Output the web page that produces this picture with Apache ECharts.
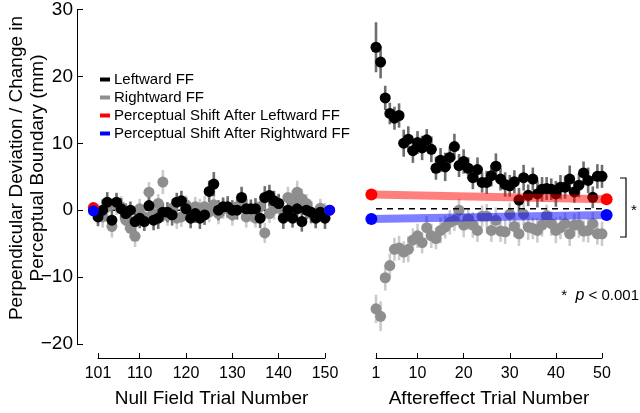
<!DOCTYPE html>
<html><head><meta charset="utf-8">
<script src="https://cdn.jsdelivr.net/npm/echarts@6/dist/echarts.min.js"></script>
<style>html,body{margin:0;padding:0;background:#fff}#c{width:640px;height:413px}</style>
</head><body><div id="c"></div>
<script>
// ---- data ----
const nullTrials = [101,102,103,104,105,106,107,108,109,110,111,112,113,114,115,116,117,118,119,120,121,122,123,124,125,126,127,128,129,130,131,132,133,134,135,136,137,138,139,140,141,142,143,144,145,146,147,148,149,150];
const afterTrials = [1,2,3,4,5,6,7,8,9,10,11,12,13,14,15,16,17,18,19,20,21,22,23,24,25,26,27,28,29,30,31,32,33,34,35,36,37,38,39,40,41,42,43,44,45,46,47,48,49,50];

const nullLeftward = [-1.0,0.0,1.2,-1.5,1.2,0.2,-0.5,0.0,-1.7,-1.2,-1.7,0.7,-1.5,-1.2,-0.3,-0.3,-0.7,1.2,1.4,0.2,-1.2,-0.5,-1.2,-0.7,2.8,3.9,0.0,0.5,0.5,0.0,0.0,1.9,0.2,0.2,0.2,-1.2,1.9,2.2,1.4,1.0,-1.2,0.0,-1.2,0.2,-1.7,0.0,-0.3,-1.2,-0.3,-1.2];
const nullLeftwardErr = [1.4,1.6,1.5,1.7,1.4,1.6,1.5,1.3,1.6,1.5,1.4,1.7,1.5,1.6,1.4,1.5,1.6,1.4,1.5,1.7,1.5,1.4,1.6,1.5,1.6,1.8,1.5,1.4,1.6,1.5,1.4,1.6,1.5,1.4,1.6,1.5,1.7,1.6,1.5,1.4,1.6,1.5,1.4,1.6,1.5,1.4,1.6,1.5,1.4,1.6];
const nullRightward = [-0.5,-1.0,0.5,-2.4,0.8,0.5,-1.5,-2.7,-3.9,0.2,-1.0,2.7,-0.5,1.0,4.2,-0.8,0.3,-1.2,-1.0,0.8,-0.5,0.5,0.3,0.5,-0.3,0.8,-0.5,0.2,0.3,-0.7,0.5,1.4,-1.0,-0.3,-1.2,0.5,-3.4,-0.5,0.2,1.0,-0.2,1.9,1.4,2.7,1.7,1.0,-0.5,-1.0,0.3,-0.5];
const nullRightwardErr = [1.5,1.6,1.4,1.7,1.5,1.6,1.4,1.5,1.6,1.5,1.4,1.5,1.6,1.4,1.8,1.5,1.4,1.6,1.5,1.4,1.6,1.5,1.4,1.6,1.5,1.4,1.6,1.5,1.4,1.6,1.5,1.4,1.6,1.5,1.4,1.6,1.5,1.4,1.6,1.5,1.4,1.6,1.5,1.7,1.5,1.4,1.6,1.5,1.4,1.6];

const afterLeftward = [23.9,21.7,16.4,14.1,13.4,13.8,9.7,10.3,8.6,9.8,9.0,10.2,8.8,6.0,7.2,6.2,7.6,9.2,6.4,7.0,6.0,4.6,5.8,3.9,3.9,4.9,6.3,4.4,3.6,3.4,4.0,1.3,4.6,2.0,4.4,2.2,2.9,3.0,2.9,2.2,3.2,3.2,4.4,2.5,3.5,5.3,4.2,1.7,4.8,4.8];
const afterLeftwardErr = [3.7,2.4,1.8,1.6,1.7,1.8,2.0,1.9,1.8,1.7,1.8,1.6,1.9,1.7,1.8,2.1,1.6,1.9,1.7,1.8,1.6,1.7,1.8,1.5,1.7,1.6,1.9,1.7,1.8,1.6,1.7,1.8,1.9,1.6,1.7,2.0,1.8,1.7,1.6,1.9,1.8,1.7,2.0,1.6,1.8,1.7,1.9,1.6,1.8,1.7];
const afterRightward = [-14.8,-15.9,-10.2,-8.4,-6.0,-5.8,-6.4,-6.0,-4.6,-4.0,-5.0,-2.8,-4.0,-4.4,-3.2,-2.7,-2.0,-1.7,-0.2,-2.4,-1.5,-2.4,-3.2,-1.1,-1.1,-3.2,-1.7,-3.3,-3.4,-0.8,-2.6,-3.7,-0.8,-2.7,-2.9,-3.2,-2.4,-1.0,-2.2,-3.2,-2.8,-2.2,-3.7,-2.4,-2.4,-3.3,-3.2,-2.2,-3.7,-3.7];
const afterRightwardErr = [2.1,2.2,1.9,1.8,1.7,1.8,1.6,1.9,1.7,1.8,1.6,1.7,1.8,1.6,1.9,1.7,1.8,1.6,1.7,1.8,1.6,1.9,1.7,1.6,1.8,1.7,1.9,1.6,1.8,1.7,1.6,1.8,1.7,1.9,1.6,1.8,1.7,1.6,1.8,1.9,1.7,1.6,1.8,1.7,1.9,1.6,1.8,1.7,1.6,1.8];

// perceptual shift end points [trial, value]
const shiftLeftwardNull = [[100,0.4],[151,0.0]];
const shiftRightwardNull = [[100,-0.1],[151,0.0]];
const shiftLeftwardAfter = [[0,2.1],[51,1.4]];
const shiftRightwardAfter = [[0,-1.5],[51,-0.9]];
const zeroNull = [[101,0],[150,0]];
const zeroAfter = [[1,0],[50,0]];

const yTicks = [30,20,10,0,-10,-20];
const nullTicks = [101,110,120,130,140,150];
const afterTicks = [1,10,20,30,40,50];

// ---- build ----
const FONT = '"Liberation Sans", Arial, sans-serif';
const pts = (xs, ys) => xs.map((x,i)=>[x, ys[i]]);
const errs = (xs, ys, es) => xs.map((x,i)=>[x, ys[i]-es[i], ys[i]+es[i]]);
function errSeries(name, gi, data, color){
  return {name, type:'custom', xAxisIndex:gi, yAxisIndex:gi, clip:false, silent:true,
    encode:{x:0, y:[1,2]}, data,
    renderItem:(params, api)=>{
      const p1 = api.coord([api.value(0), api.value(1)]);
      const p2 = api.coord([api.value(0), api.value(2)]);
      return {type:'line', shape:{x1:p1[0],y1:p1[1],x2:p2[0],y2:p2[1]}, style:{stroke:color, lineWidth:2.6}};
    }};
}
function dotSeries(name, gi, data, color){
  return {name, type:'scatter', xAxisIndex:gi, yAxisIndex:gi, clip:false, symbol:'circle', symbolSize:11,
    itemStyle:{color, opacity:1}, data, silent:true};
}
const GRAY = '#8e8e8e', GRAYERR = '#cbcbcb', BLKERR = '#6e6e6e';

function xAxisDef(gi, min, max, ticks, name){
  return {type:'value', gridIndex:gi, min, max, name, offset:14, position:'bottom',
    axisLine:{show:true, onZero:false, lineStyle:{color:'#000', width:1}},
    axisTick:{show:true, inside:true, length:5, customValues:ticks, lineStyle:{color:'#000'}},
    axisLabel:{customValues:ticks, fontSize:16, color:'#000', margin:8, fontFamily:FONT},
    splitLine:{show:false},
    nameLocation:'middle', nameGap:31, nameTextStyle:{fontSize:19, color:'#000', fontFamily:FONT}};
}

const option = {
  animation:false,
  backgroundColor:'#fff',
  textStyle:{fontFamily:FONT},
  grid:[
    {left:98, right:315, top:6, bottom:64},
    {left:376, right:38, top:6, bottom:64}
  ],
  xAxis:[
    xAxisDef(0, 101, 150, nullTicks, 'Null Field Trial Number'),
    xAxisDef(1, 1, 50, afterTicks, 'Aftereffect Trial Number')
  ],
  yAxis:[
    {type:'value', gridIndex:0, min:-20, max:30, interval:10, offset:21,
     axisLine:{show:true, onZero:false, lineStyle:{color:'#000', width:1}},
     axisTick:{show:true, inside:true, length:6, lineStyle:{color:'#000'}},
     splitLine:{show:false},
     axisLabel:{fontSize:19, color:'#000', margin:4, fontFamily:FONT,
       customValues:yTicks, formatter:v=>String(v).replace('-', '\u2212')}},
    {type:'value', gridIndex:1, min:-20, max:30, show:false, splitLine:{show:false}}
  ],
  legend:{
    left:95, top:67, orient:'vertical', itemGap:3, itemWidth:10, itemHeight:4,
    textStyle:{fontSize:15, color:'#000', fontFamily:FONT, lineHeight:15, padding:[0,0,0,-1]},
    selectedMode:false,
    data:[
      {name:'Leftward FF', icon:'rect', itemStyle:{color:'#000'}},
      {name:'Rightward FF', icon:'rect', itemStyle:{color:GRAY}},
      {name:'Perceptual Shift After Leftward FF', icon:'rect', itemStyle:{color:'#ff0000'}},
      {name:'Perceptual Shift After Rightward FF', icon:'rect', itemStyle:{color:'#0000ff'}}
    ]
  },
  series:[
    {name:'zero0', type:'line', xAxisIndex:0, yAxisIndex:0, data:zeroNull, symbol:'none', silent:true,
      lineStyle:{color:'#000', width:1.5, type:[6,5]}, z:1},
    errSeries('errR0', 0, errs(nullTrials, nullRightward, nullRightwardErr), GRAYERR),
    dotSeries('Rightward FF', 0, pts(nullTrials, nullRightward), GRAY),
    errSeries('errL0', 0, errs(nullTrials, nullLeftward, nullLeftwardErr), BLKERR),
    dotSeries('Leftward FF', 0, pts(nullTrials, nullLeftward), '#000'),
    dotSeries('Perceptual Shift After Leftward FF', 0, shiftLeftwardNull, '#ff0000'),
    dotSeries('Perceptual Shift After Rightward FF', 0, shiftRightwardNull, '#0000ff'),
    errSeries('errR1', 1, errs(afterTrials, afterRightward, afterRightwardErr), GRAYERR),
    dotSeries('Rightward FF', 1, pts(afterTrials, afterRightward), GRAY),
    errSeries('errL1', 1, errs(afterTrials, afterLeftward, afterLeftwardErr), BLKERR),
    dotSeries('Leftward FF', 1, pts(afterTrials, afterLeftward), '#000'),
    {name:'zero1', type:'line', xAxisIndex:1, yAxisIndex:1, data:zeroAfter, symbol:'none', silent:true,
      lineStyle:{color:'#000', width:1.5, type:[6,5]}, z:3},
    {name:'Perceptual Shift After Leftward FF', type:'line', xAxisIndex:1, yAxisIndex:1, data:shiftLeftwardAfter,
      clip:false, symbol:'circle', symbolSize:12, showSymbol:true, silent:true, z:4,
      itemStyle:{color:'#ff0000'}, lineStyle:{color:'rgba(255,0,0,0.5)', width:8}},
    {name:'Perceptual Shift After Rightward FF', type:'line', xAxisIndex:1, yAxisIndex:1, data:shiftRightwardAfter,
      clip:false, symbol:'circle', symbolSize:12, showSymbol:true, silent:true, z:4,
      itemStyle:{color:'#0000ff'}, lineStyle:{color:'rgba(0,0,255,0.5)', width:8}}
  ],
  graphic:[
    {type:'text', x:27, y:168, rotation:Math.PI/2,
      style:{text:'Perpendicular Deviation / Change in\nPerceptual Boundary (mm)', fontSize:19, lineHeight:21,
        fontFamily:FONT, fill:'#000', align:'center', verticalAlign:'middle'}},
    {type:'polyline', shape:{points:[[620,178],[626,178],[626,237],[620,237]]}, style:{stroke:'#000', lineWidth:1.2, fill:null}},
    {type:'text', x:631, y:203, style:{text:'*', fontSize:15, fontFamily:FONT, fill:'#000'}},
    {type:'text', x:639, y:296, style:{rich:{a:{fontSize:15, fontFamily:FONT, fill:'#000'}, b:{fontSize:16, fontStyle:'italic', fontFamily:FONT, fill:'#000'}},
      text:'{a|*  }{b|p}{a| < 0.001}', align:'right', verticalAlign:'middle'}}
  ]
};
const chart = echarts.init(document.getElementById('c'), null, {renderer:'canvas'});
chart.setOption(option);
</script></body></html>
